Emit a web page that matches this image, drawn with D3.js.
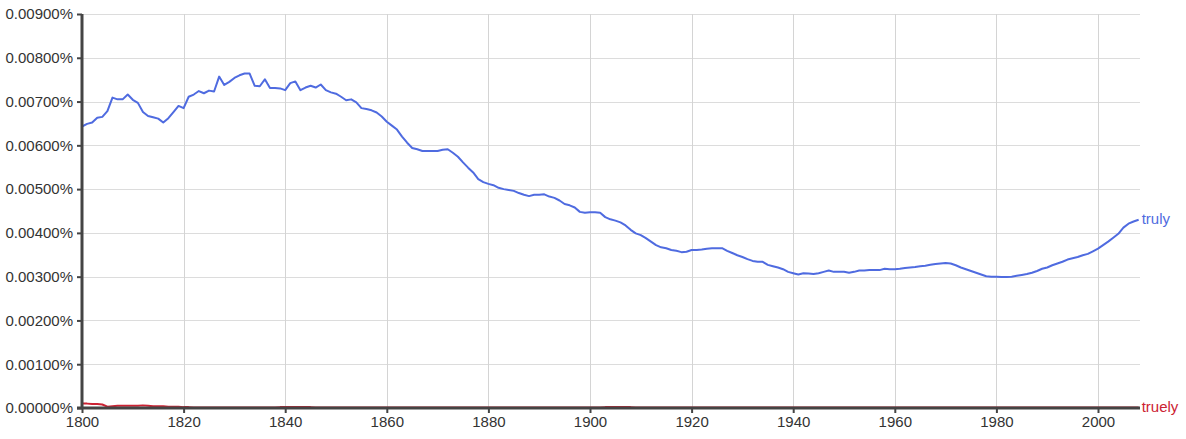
<!DOCTYPE html>
<html>
<head>
<meta charset="utf-8">
<script src="https://cdnjs.cloudflare.com/ajax/libs/d3/7.8.5/d3.min.js"></script>
<style>
  body { margin: 0; background: #fff; }
  svg { font-family: "Liberation Sans", Arial, Helvetica, sans-serif; }
</style>
</head>
<body>
<svg id="chart" width="1186" height="439"></svg>
<script>
// first year of both series, one value per year after that
var startYear = 1800;

var xTicks = [1800, 1820, 1840, 1860, 1880, 1900, 1920, 1940, 1960, 1980, 2000];
var yTicks = [0, 0.001, 0.002, 0.003, 0.004, 0.005, 0.006, 0.007, 0.008, 0.009];

// percent of corpus, 1800..2008
var truly = [
  0.00643, 0.00649, 0.00652, 0.00663, 0.00665, 0.00678, 0.00709, 0.00705, 0.00705, 0.00716,
  0.00704, 0.00697, 0.00676, 0.00667, 0.00664, 0.00661, 0.00652, 0.00662, 0.00676, 0.00690,
  0.00685, 0.00711, 0.00716, 0.00724, 0.00719, 0.00725, 0.00723, 0.00757, 0.00738, 0.00745,
  0.00754, 0.00760, 0.00764, 0.00764, 0.00736, 0.00735, 0.00751, 0.00731, 0.00731, 0.00730,
  0.00726, 0.00742, 0.00746, 0.00726, 0.00732, 0.00736, 0.00732, 0.00739, 0.00726, 0.00721,
  0.00718, 0.00711, 0.00703, 0.00705, 0.00698, 0.00685, 0.00683, 0.00680, 0.00675, 0.00666,
  0.00654, 0.00645, 0.00636, 0.00620, 0.00606, 0.00594, 0.00591, 0.00587, 0.00587, 0.00587,
  0.00587, 0.00590, 0.00591, 0.00583, 0.00574, 0.00561, 0.00549, 0.00538, 0.00523, 0.00516,
  0.00512, 0.00509, 0.00503, 0.00500, 0.00498, 0.00496, 0.00491, 0.00487, 0.00484, 0.00487,
  0.00487, 0.00488, 0.00483, 0.00480, 0.00474, 0.00466, 0.00463, 0.00458, 0.00448, 0.00446,
  0.00447, 0.00447, 0.00446, 0.00436, 0.00431, 0.00428, 0.00424, 0.00417, 0.00407, 0.00399,
  0.00395, 0.00388, 0.00380, 0.00372, 0.00367, 0.00365, 0.00361, 0.00359, 0.00356, 0.00357,
  0.00361, 0.00361, 0.00362, 0.00364, 0.00365, 0.00365, 0.00365, 0.00359, 0.00354, 0.00349,
  0.00345, 0.00340, 0.00336, 0.00334, 0.00334, 0.00327, 0.00324, 0.00321, 0.00317, 0.00311,
  0.00308, 0.00305, 0.00308, 0.00307, 0.00306, 0.00308, 0.00311, 0.00314, 0.00311, 0.00311,
  0.00311, 0.00309, 0.00311, 0.00314, 0.00314, 0.00315, 0.00315, 0.00315, 0.00318, 0.00317,
  0.00317, 0.00318, 0.00320, 0.00321, 0.00322, 0.00324, 0.00325, 0.00327, 0.00329, 0.00330,
  0.00331, 0.00330, 0.00326, 0.00321, 0.00317, 0.00313, 0.00309, 0.00305, 0.00301, 0.00300,
  0.00300, 0.00299, 0.00299, 0.00300, 0.00302, 0.00304, 0.00306, 0.00309, 0.00313, 0.00318,
  0.00321, 0.00326, 0.00330, 0.00334, 0.00339, 0.00342, 0.00345, 0.00349, 0.00352, 0.00358,
  0.00364, 0.00372, 0.00380, 0.00389, 0.00398, 0.00412, 0.00421, 0.00426, 0.00430
];

var truely = [
  0.00010, 0.00010, 0.00009, 0.00009, 0.00008, 0.00003, 0.00004, 0.00005, 0.00005, 0.00005,
  0.00005, 0.00005, 0.00006, 0.00005, 0.00004, 0.00004, 0.00004, 0.00003, 0.00003, 0.00003,
  0.00002, 0.00002, 0.00001, 0.00001, 0.00001, 0.00001, 0.00001, 0.00001, 0.00001, 0.00001,
  0.00001, 0.00001, 0.00001, 0.00001, 0.00001, 0.00001, 0.00001, 0.00001, 0.00001, 0.00002,
  0.00002, 0.00002, 0.00002, 0.00002, 0.00002, 0.00002, 0.00001, 0.00001, 0.00001, 0.00001,
  0.00001, 0.00001, 0.00001, 0.00001, 0.00001, 0.00001, 0.00001, 0.00001, 0.00001, 0.00001,
  0.00001, 0.00001, 0.00001, 0.00001, 0.00001, 0.00001, 0.00001, 0.00001, 0.00001, 0.00001,
  0.00001, 0.00001, 0.00001, 0.00001, 0.00001, 0.00001, 0.00001, 0.00001, 0.00001, 0.00001,
  0.00001, 0.00001, 0.00001, 0.00001, 0.00001, 0.00001, 0.00001, 0.00001, 0.00001, 0.00001,
  0.00001, 0.00001, 0.00001, 0.00001, 0.00001, 0.00001, 0.00001, 0.00001, 0.00001, 0.00001,
  0.00001, 0.00001, 0.00001, 0.00002, 0.00002, 0.00002, 0.00002, 0.00002, 0.00002, 0.00001,
  0.00001, 0.00001, 0.00001, 0.00001, 0.00001, 0.00001, 0.00001, 0.00001, 0.00001, 0.00001,
  0.00001, 0.00001, 0.00001, 0.00001, 0.00001, 0.00001, 0.00001, 0.00001, 0.00001, 0.00001,
  0.00001, 0.00001, 0.00001, 0.00001, 0.00001, 0.00001, 0.00001, 0.00001, 0.00001, 0.00001,
  0.00001, 0.00001, 0.00001, 0.00001, 0.00001, 0.00001, 0.00001, 0.00001, 0.00001, 0.00001,
  0.00001, 0.00001, 0.00001, 0.00001, 0.00001, 0.00001, 0.00001, 0.00001, 0.00001, 0.00001,
  0.00001, 0.00001, 0.00001, 0.00001, 0.00001, 0.00001, 0.00001, 0.00001, 0.00001, 0.00001,
  0.00001, 0.00001, 0.00001, 0.00001, 0.00001, 0.00001, 0.00001, 0.00001, 0.00001, 0.00001,
  0.00001, 0.00001, 0.00001, 0.00001, 0.00001, 0.00001, 0.00001, 0.00001, 0.00001, 0.00001,
  0.00001, 0.00001, 0.00001, 0.00001, 0.00001, 0.00001, 0.00001, 0.00001, 0.00001, 0.00001,
  0.00001, 0.00001, 0.00001, 0.00001, 0.00001, 0.00001, 0.00001, 0.00001, 0.00001
];

var seriesNames = ["truly", "truely"];
var seriesColors = ["#4f6be0", "#cc2233"];

!(function (d3) {

  var svg = d3.select("#chart"),
    left = 82, right = 1140, top = 14, bottom = 408;

  var lastYear = startYear + truly.length - 1;

  var x = d3.scaleLinear().domain([startYear, lastYear]).range([left, left + (lastYear - startYear) * 5.08]);
  var y = d3.scaleLinear().domain([0, 0.009]).range([bottom, top]);

  // grid
  svg.append("g")
    .selectAll("line")
    .data(yTicks.slice(1))
    .enter().append("line")
    .attr("x1", left).attr("x2", right)
    .attr("y1", function (d) { return Math.round(y(d)) + 0.5; })
    .attr("y2", function (d) { return Math.round(y(d)) + 0.5; })
    .attr("stroke", "#dcdcdc");

  svg.append("g")
    .selectAll("line")
    .data(xTicks.slice(1))
    .enter().append("line")
    .attr("y1", top).attr("y2", bottom)
    .attr("x1", function (d) { return Math.round(x(d)) + 0.5; })
    .attr("x2", function (d) { return Math.round(x(d)) + 0.5; })
    .attr("stroke", "#d4d4d4");

  // series
  var line = d3.line()
    .x(function (d, i) { return x(startYear + i); })
    .y(function (d) { return y(d); });

  [truly, truely].forEach(function (values, k) {
    svg.append("path")
      .datum(values)
      .attr("fill", "none")
      .attr("stroke", seriesColors[k])
      .attr("stroke-width", 2)
      .attr("stroke-linejoin", "round")
      .attr("d", line);

    svg.append("text")
      .attr("x", x(lastYear) + 3)
      .attr("y", y(values[values.length - 1]))
      .attr("dy", "0.3em")
      .attr("fill", seriesColors[k])
      .style("font-size", "15px")
      .text(seriesNames[k]);
  });

  // axes
  var yAxis = svg.append("g")
    .attr("transform", "translate(" + left + ",0)")
    .call(d3.axisLeft(y).tickValues(yTicks).tickSize(5).tickPadding(4)
      .tickFormat(function (d) { return d.toFixed(5) + "%"; }));

  var xAxis = svg.append("g")
    .attr("transform", "translate(0," + bottom + ")")
    .call(d3.axisBottom(x).tickValues(xTicks).tickSize(5).tickPadding(3)
      .tickFormat(d3.format("d")));

  [yAxis, xAxis].forEach(function (g) {
    g.select(".domain").remove();
    g.selectAll(".tick line").attr("stroke", "#444").attr("stroke-width", 2);
    g.selectAll(".tick text")
      .attr("fill", "#333")
      .style("font-size", "15px")
      .style("font-family", "\"Liberation Sans\", Arial, sans-serif");
  });

  svg.append("line")
    .attr("x1", left).attr("x2", left)
    .attr("y1", top).attr("y2", bottom + 1)
    .attr("stroke", "#444").attr("stroke-width", 3);

  svg.append("line")
    .attr("x1", left - 5).attr("x2", right)
    .attr("y1", bottom).attr("y2", bottom)
    .attr("stroke", "#444").attr("stroke-width", 3);

})(d3);
</script>
</body>
</html>
